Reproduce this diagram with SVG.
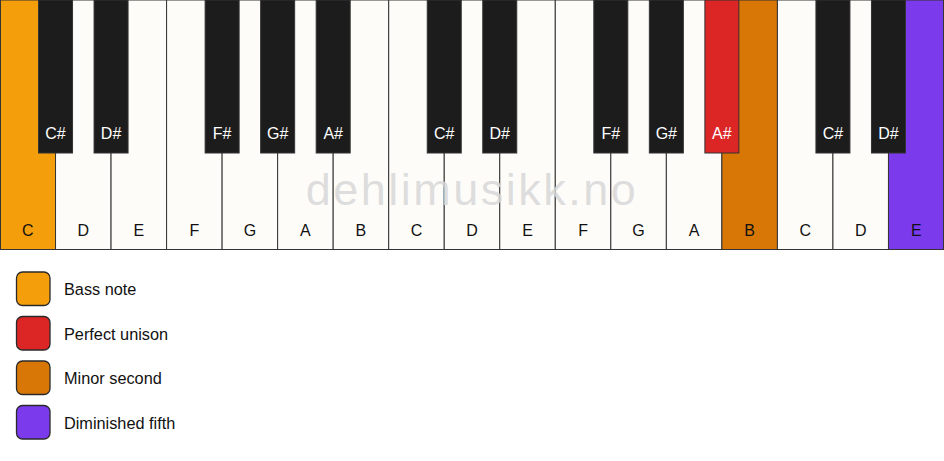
<svg xmlns="http://www.w3.org/2000/svg" width="944" height="461" viewBox="0 0 944 461">
<style>
.w{fill:#FDFCF9;stroke:#333;stroke-width:1}
.b{fill:#1C1C1C;stroke:#333;stroke-width:1}
.bass{fill:#F59E0B}
.uni{fill:#DC2626}
.min{fill:#D97706}
.dim{fill:#7C3AED}
.wl{font-family:"Liberation Sans",Arial,sans-serif;font-size:16px;fill:#111;text-anchor:middle}
.bl{font-family:"Liberation Sans",Arial,sans-serif;font-size:16px;fill:#fff;text-anchor:middle}
.lg{font-family:"Liberation Sans",Arial,sans-serif;font-size:16.3px;fill:#111}
.sw{stroke:#2a2a2a;stroke-width:1.3}
.wm{font-family:"Liberation Sans",Arial,sans-serif;font-size:45px;fill:#D8D8D8;fill-opacity:0.85;text-anchor:middle;letter-spacing:2.5px}
</style>
<rect width="944" height="461" fill="#fff"/>
<g id="white-keys">
<g id="key-C1"><rect class="w bass" x="0.5" y="0" width="55.03" height="249.5"/><text class="wl" x="27.76" y="236">C</text></g>
<g id="key-D1"><rect class="w" x="55.53" y="0" width="55.53" height="249.5"/><text class="wl" x="83.29" y="236">D</text></g>
<g id="key-E1"><rect class="w" x="111.06" y="0" width="55.53" height="249.5"/><text class="wl" x="138.82" y="236">E</text></g>
<g id="key-F1"><rect class="w" x="166.59" y="0" width="55.53" height="249.5"/><text class="wl" x="194.35" y="236">F</text></g>
<g id="key-G1"><rect class="w" x="222.12" y="0" width="55.53" height="249.5"/><text class="wl" x="249.88" y="236">G</text></g>
<g id="key-A1"><rect class="w" x="277.65" y="0" width="55.53" height="249.5"/><text class="wl" x="305.41" y="236">A</text></g>
<g id="key-B1"><rect class="w" x="333.18" y="0" width="55.53" height="249.5"/><text class="wl" x="360.94" y="236">B</text></g>
<g id="key-C2"><rect class="w" x="388.71" y="0" width="55.53" height="249.5"/><text class="wl" x="416.47" y="236">C</text></g>
<g id="key-D2"><rect class="w" x="444.24" y="0" width="55.53" height="249.5"/><text class="wl" x="472.00" y="236">D</text></g>
<g id="key-E2"><rect class="w" x="499.76" y="0" width="55.53" height="249.5"/><text class="wl" x="527.53" y="236">E</text></g>
<g id="key-F2"><rect class="w" x="555.29" y="0" width="55.53" height="249.5"/><text class="wl" x="583.06" y="236">F</text></g>
<g id="key-G2"><rect class="w" x="610.82" y="0" width="55.53" height="249.5"/><text class="wl" x="638.59" y="236">G</text></g>
<g id="key-A2"><rect class="w" x="666.35" y="0" width="55.53" height="249.5"/><text class="wl" x="694.12" y="236">A</text></g>
<g id="key-B2"><rect class="w min" x="721.88" y="0" width="55.53" height="249.5"/><text class="wl" x="749.65" y="236">B</text></g>
<g id="key-C3"><rect class="w" x="777.41" y="0" width="55.53" height="249.5"/><text class="wl" x="805.18" y="236">C</text></g>
<g id="key-D3"><rect class="w" x="832.94" y="0" width="55.53" height="249.5"/><text class="wl" x="860.71" y="236">D</text></g>
<g id="key-E3"><rect class="w dim" x="888.47" y="0" width="55.03" height="249.5"/><text class="wl" x="916.24" y="236">E</text></g>
</g>
<text class="wm" x="472" y="205">dehlimusikk.no</text>
<g id="black-keys">
<g id="key-Cs1"><rect class="b" x="38.53" y="0" width="34" height="153"/><text class="bl" x="55.53" y="139">C#</text></g>
<g id="key-Ds1"><rect class="b" x="94.06" y="0" width="34" height="153"/><text class="bl" x="111.06" y="139">D#</text></g>
<g id="key-Fs1"><rect class="b" x="205.12" y="0" width="34" height="153"/><text class="bl" x="222.12" y="139">F#</text></g>
<g id="key-Gs1"><rect class="b" x="260.65" y="0" width="34" height="153"/><text class="bl" x="277.65" y="139">G#</text></g>
<g id="key-As1"><rect class="b" x="316.18" y="0" width="34" height="153"/><text class="bl" x="333.18" y="139">A#</text></g>
<g id="key-Cs2"><rect class="b" x="427.24" y="0" width="34" height="153"/><text class="bl" x="444.24" y="139">C#</text></g>
<g id="key-Ds2"><rect class="b" x="482.76" y="0" width="34" height="153"/><text class="bl" x="499.76" y="139">D#</text></g>
<g id="key-Fs2"><rect class="b" x="593.82" y="0" width="34" height="153"/><text class="bl" x="610.82" y="139">F#</text></g>
<g id="key-Gs2"><rect class="b" x="649.35" y="0" width="34" height="153"/><text class="bl" x="666.35" y="139">G#</text></g>
<g id="key-As2"><rect class="b uni" x="704.88" y="0" width="34" height="153"/><text class="bl" x="721.88" y="139">A#</text></g>
<g id="key-Cs3"><rect class="b" x="815.94" y="0" width="34" height="153"/><text class="bl" x="832.94" y="139">C#</text></g>
<g id="key-Ds3"><rect class="b" x="871.47" y="0" width="34" height="153"/><text class="bl" x="888.47" y="139">D#</text></g>
</g>
<g id="legend">
<g id="legend-bass"><rect class="sw bass" x="16.5" y="272" width="33.5" height="33.5" rx="6"/><text class="lg" x="64" y="295">Bass note</text></g>
<g id="legend-unison"><rect class="sw uni" x="16.5" y="316.5" width="33.5" height="33.5" rx="6"/><text class="lg" x="64" y="339.5">Perfect unison</text></g>
<g id="legend-minor"><rect class="sw min" x="16.5" y="361" width="33.5" height="33.5" rx="6"/><text class="lg" x="64" y="384">Minor second</text></g>
<g id="legend-dim"><rect class="sw dim" x="16.5" y="405.5" width="33.5" height="33.5" rx="6"/><text class="lg" x="64" y="428.5">Diminished fifth</text></g>
</g>
<g id="connectors"/>
</svg>
